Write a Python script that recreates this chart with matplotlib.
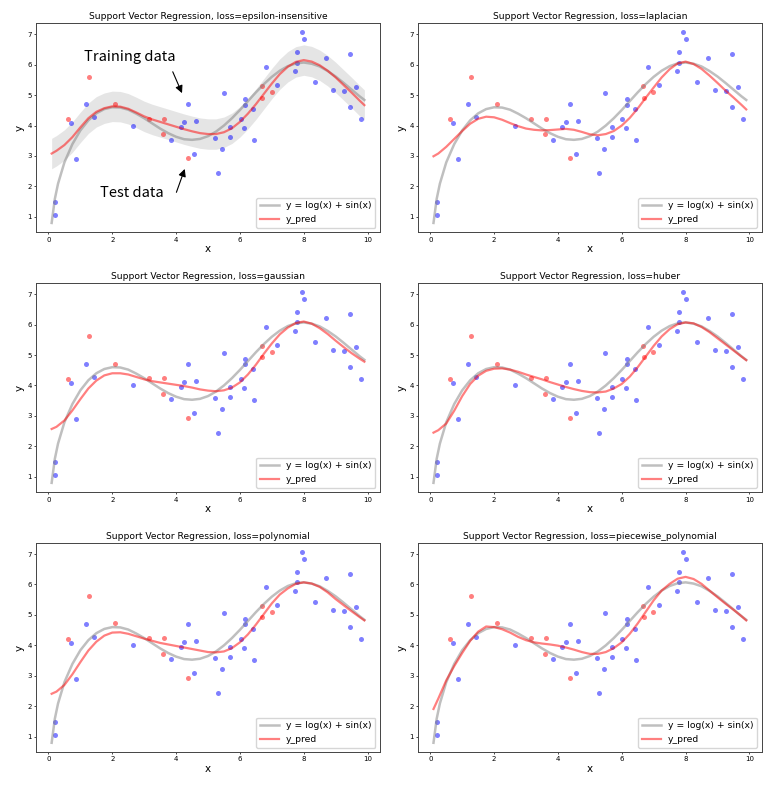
import matplotlib
matplotlib.use("Agg")
import matplotlib.pyplot as plt

# training / test samples (shared by every panel)
train_x = [0.2, 0.2, 0.7, 0.87, 1.19, 1.43, 2.64, 3.85, 4.14, 4.24, 4.38, 4.57, 4.62,
           5.22, 5.3, 5.45, 5.49, 5.68, 5.68, 6.02, 6.12, 6.17, 6.17, 6.41, 6.45, 6.81,
           7.16, 7.73, 7.78, 7.8, 7.93, 8.0, 8.35, 8.71, 8.92, 9.27, 9.46, 9.46, 9.64, 9.79]
train_y = [1.49, 1.05, 4.07, 2.9, 4.7, 4.27, 4.0, 3.54, 3.95, 4.12, 4.7, 3.08, 4.14,
           3.6, 2.45, 3.23, 5.07, 3.61, 3.96, 4.2, 3.91, 4.86, 4.69, 4.53, 3.51, 5.92,
           5.34, 5.8, 6.07, 6.4, 7.06, 6.83, 5.44, 6.22, 5.16, 5.14, 4.6, 6.35, 5.26, 4.2]
test_x = [0.61, 1.28, 2.1, 3.14, 3.62, 3.6, 4.38, 6.68, 6.69, 6.99]
test_y = [4.2, 5.61, 4.72, 4.23, 4.23, 3.72, 2.93, 5.3, 4.92, 5.09]

# true curve y = log(x) + sin(x) (shifted)
true_x = [0.1, 0.2, 0.3, 0.5, 0.75, 1.0, 1.25, 1.5, 1.75, 2.0, 2.25, 2.5, 2.75, 3.0,
          3.25, 3.5, 3.75, 4.0, 4.25, 4.5, 4.75, 5.0, 5.25, 5.5, 5.75, 6.0, 6.25, 6.5,
          6.75, 7.0, 7.25, 7.5, 7.75, 8.0, 8.25, 8.5, 8.75, 9.0, 9.25, 9.5, 9.75, 9.9]
true_y = [0.80, 1.59, 2.09, 2.79, 3.39, 3.84, 4.17, 4.40, 4.54, 4.60, 4.59, 4.52, 4.39,
          4.24, 4.07, 3.90, 3.75, 3.63, 3.55, 3.53, 3.56, 3.65, 3.80, 4.00, 4.24, 4.51,
          4.80, 5.09, 5.36, 5.60, 5.80, 5.95, 6.04, 6.07, 6.03, 5.94, 5.79, 5.61, 5.40,
          5.18, 4.96, 4.84]

# predictions for each loss
pred_x = [0.1, 0.25, 0.5, 0.75, 1.0, 1.25, 1.5, 1.75, 2.0, 2.25, 2.5, 2.75, 3.0, 3.25,
          3.5, 3.75, 4.0, 4.25, 4.5, 4.75, 5.0, 5.25, 5.5, 5.75, 6.0, 6.25, 6.5, 6.75,
          7.0, 7.25, 7.5, 7.75, 8.0, 8.25, 8.5, 8.75, 9.0, 9.25, 9.5, 9.75, 9.9]
pred_epsilon = [3.08, 3.17, 3.36, 3.62, 3.94, 4.24, 4.45, 4.57, 4.63, 4.62, 4.55, 4.43,
                4.3, 4.2, 4.12, 4.04, 3.96, 3.88, 3.81, 3.75, 3.72, 3.72, 3.78, 3.91,
                4.12, 4.39, 4.7, 5.04, 5.38, 5.69, 5.93, 6.09, 6.15, 6.1, 5.98, 5.8,
                5.58, 5.33, 5.08, 4.82, 4.67]
pred_laplacian = [2.99, 3.08, 3.3, 3.56, 3.82, 4.06, 4.22, 4.29, 4.27, 4.19, 4.08, 3.98,
                  3.9, 3.86, 3.84, 3.85, 3.87, 3.89, 3.86, 3.79, 3.71, 3.68, 3.72, 3.82,
                  4.0, 4.25, 4.56, 4.91, 5.25, 5.58, 5.85, 6.04, 6.1, 6.02, 5.86, 5.64,
                  5.4, 5.15, 4.92, 4.68, 4.53]
pred_gaussian = [2.57, 2.64, 2.85, 3.18, 3.55, 3.9, 4.16, 4.33, 4.4, 4.4, 4.36, 4.28,
                 4.2, 4.14, 4.1, 4.06, 4.02, 3.98, 3.93, 3.87, 3.83, 3.81, 3.84, 3.93,
                 4.1, 4.36, 4.68, 5.04, 5.38, 5.68, 5.9, 6.05, 6.1, 6.03, 5.88, 5.69,
                 5.47, 5.26, 5.06, 4.88, 4.78]
pred_huber = [2.45, 2.53, 2.75, 3.17, 3.65, 4.05, 4.32, 4.48, 4.55, 4.56, 4.52, 4.45,
              4.36, 4.28, 4.2, 4.11, 4.03, 3.95, 3.88, 3.82, 3.78, 3.77, 3.8, 3.9,
              4.05, 4.29, 4.6, 4.95, 5.3, 5.61, 5.85, 6.01, 6.07, 6.04, 5.92, 5.75,
              5.55, 5.35, 5.15, 4.95, 4.83]
pred_polynomial = [2.41, 2.48, 2.7, 3.05, 3.45, 3.83, 4.12, 4.32, 4.42, 4.43, 4.38, 4.3,
                   4.22, 4.15, 4.08, 4.03, 3.98, 3.93, 3.88, 3.83, 3.78, 3.77, 3.8, 3.91,
                   4.1, 4.36, 4.68, 5.03, 5.38, 5.67, 5.87, 6.02, 6.07, 6.03, 5.92, 5.74,
                   5.52, 5.32, 5.12, 4.93, 4.82]
pred_piecewise = [1.91, 2.25, 2.85, 3.32, 3.75, 4.15, 4.45, 4.62, 4.6, 4.53, 4.42, 4.28,
                  4.17, 4.1, 4.06, 4.03, 3.99, 3.93, 3.86, 3.78, 3.72, 3.72, 3.78, 3.91,
                  4.1, 4.38, 4.72, 5.1, 5.48, 5.8, 6.02, 6.19, 6.25, 6.18, 6.02, 5.8,
                  5.58, 5.37, 5.17, 4.96, 4.82]

losses = ["epsilon-insensitive", "laplacian", "gaussian", "huber",
          "polynomial", "piecewise_polynomial"]
preds = [pred_epsilon, pred_laplacian, pred_gaussian, pred_huber,
         pred_polynomial, pred_piecewise]
epsilon = 0.5

fig, axes = plt.subplots(3, 2, figsize=(7.83, 7.88), dpi=100)
plt.subplots_adjust(left=0.046, right=0.973, bottom=0.0453, top=0.971,
                    wspace=0.11, hspace=0.24)

for ax, loss, pred in zip(axes.flat, losses, preds):
    if loss == "epsilon-insensitive":
        ax.fill_between(pred_x, [p - epsilon for p in pred], [p + epsilon for p in pred],
                        color="gray", alpha=0.2, linewidth=0)
    ax.scatter(train_x, train_y, s=13, c="b", alpha=0.5, linewidths=0)
    ax.scatter(test_x, test_y, s=13, c="r", alpha=0.5, linewidths=0)
    ax.plot(true_x, true_y, color="gray", alpha=0.5, lw=1.8, label="y = log(x) + sin(x)")
    ax.plot(pred_x, pred, color="r", alpha=0.5, lw=1.6, label="y_pred")
    ax.set_title("Support Vector Regression, loss=" + loss, fontsize=6.6, pad=3)
    ax.set_xlabel("x", fontsize=7.5, labelpad=1)
    ax.set_ylabel("y", fontsize=7.5, labelpad=2)
    ax.tick_params(labelsize=5, length=1.5, width=0.5, pad=1.5)
    ax.set_xticks([0, 2, 4, 6, 8, 10])
    for sp in ax.spines.values():
        sp.set_linewidth(0.7)
        sp.set_color("#444444")
    ax.legend(loc="lower right", fontsize=6.7)

ax = axes[0, 0]
ax.text(1.1, 6.24, "Training data", fontsize=10.5, va="center",
        family=["Noto Sans CJK KR", "DejaVu Sans"])
ax.annotate("", xy=(4.22, 4.98), xytext=(3.86, 5.85),
            arrowprops=dict(arrowstyle="-|>", color="k", lw=0.8, mutation_scale=11))
ax.text(1.6, 1.78, "Test data", fontsize=10.5, va="center",
        family=["Noto Sans CJK KR", "DejaVu Sans"])
ax.annotate("", xy=(4.3, 2.66), xytext=(3.98, 1.72),
            arrowprops=dict(arrowstyle="-|>", color="k", lw=0.8, mutation_scale=11))

plt.savefig("out.png", dpi=100)
